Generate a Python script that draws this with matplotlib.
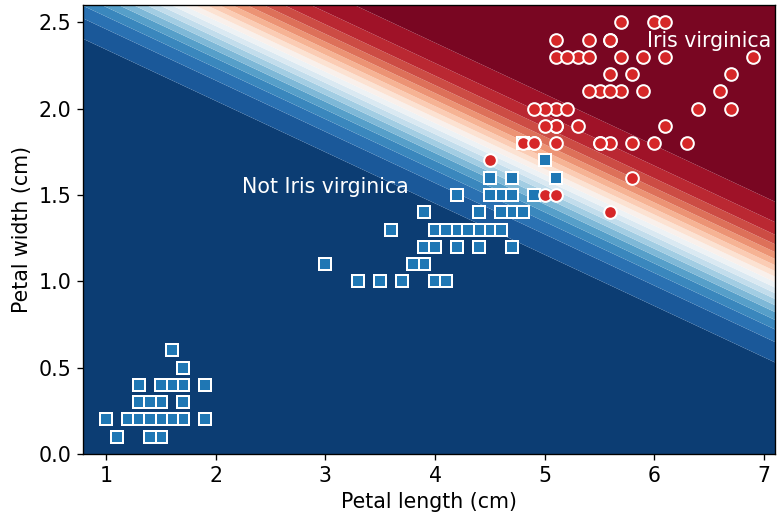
import numpy as np
import matplotlib
matplotlib.use("Agg")
import matplotlib.pyplot as plt

# Iris petal length / width (cm)
petal_length = [
    1.4, 1.4, 1.3, 1.5, 1.4, 1.7, 1.4, 1.5, 1.4, 1.5, 1.5, 1.6, 1.4, 1.1, 1.2, 1.5, 1.3, 1.4, 1.7, 1.5,
    1.7, 1.5, 1.0, 1.7, 1.9, 1.6, 1.6, 1.5, 1.4, 1.6, 1.6, 1.5, 1.5, 1.4, 1.5, 1.2, 1.3, 1.4, 1.3, 1.5,
    1.3, 1.3, 1.3, 1.6, 1.9, 1.4, 1.6, 1.4, 1.5, 1.4,
    4.7, 4.5, 4.9, 4.0, 4.6, 4.5, 4.7, 3.3, 4.6, 3.9, 3.5, 4.2, 4.0, 4.7, 3.6, 4.4, 4.5, 4.1, 4.5, 3.9,
    4.8, 4.0, 4.9, 4.7, 4.3, 4.4, 4.8, 5.0, 4.5, 3.5, 3.8, 3.7, 3.9, 5.1, 4.5, 4.5, 4.7, 4.4, 4.1, 4.0,
    4.4, 4.6, 4.0, 3.3, 4.2, 4.2, 4.2, 4.3, 3.0, 4.1,
    6.0, 5.1, 5.9, 5.6, 5.8, 6.6, 4.5, 6.3, 5.8, 6.1, 5.1, 5.3, 5.5, 5.0, 5.1, 5.3, 5.5, 6.7, 6.9, 5.0,
    5.7, 4.9, 6.7, 4.9, 5.7, 6.0, 4.8, 4.9, 5.6, 5.8, 6.1, 6.4, 5.6, 5.1, 5.6, 6.1, 5.6, 5.5, 5.4, 5.4,
    5.6, 5.1, 5.1, 5.9, 5.7, 5.2, 5.0, 5.2, 5.4, 5.1,
]
petal_width = [
    0.2, 0.2, 0.2, 0.2, 0.2, 0.4, 0.3, 0.2, 0.2, 0.1, 0.2, 0.2, 0.1, 0.1, 0.2, 0.4, 0.4, 0.3, 0.3, 0.3,
    0.2, 0.4, 0.2, 0.5, 0.2, 0.2, 0.4, 0.2, 0.2, 0.2, 0.2, 0.4, 0.1, 0.2, 0.2, 0.2, 0.2, 0.1, 0.2, 0.2,
    0.3, 0.3, 0.2, 0.6, 0.4, 0.3, 0.2, 0.2, 0.2, 0.2,
    1.4, 1.5, 1.5, 1.3, 1.5, 1.3, 1.6, 1.0, 1.3, 1.4, 1.0, 1.5, 1.0, 1.4, 1.3, 1.4, 1.5, 1.0, 1.5, 1.1,
    1.8, 1.3, 1.5, 1.2, 1.3, 1.4, 1.4, 1.7, 1.5, 1.0, 1.1, 1.0, 1.2, 1.6, 1.5, 1.6, 1.5, 1.3, 1.3, 1.3,
    1.2, 1.4, 1.2, 1.0, 1.3, 1.2, 1.3, 1.3, 1.1, 1.3,
    2.5, 1.9, 2.1, 1.8, 2.2, 2.1, 1.7, 1.8, 1.8, 2.5, 2.0, 1.9, 2.1, 2.0, 2.4, 2.3, 1.8, 2.2, 2.3, 1.5,
    2.3, 2.0, 2.0, 1.8, 2.1, 1.8, 1.8, 1.8, 2.1, 1.6, 1.9, 2.0, 2.2, 1.5, 1.4, 2.3, 2.4, 1.8, 2.1, 2.4,
    2.4, 2.3, 1.9, 2.3, 2.5, 2.3, 1.9, 2.0, 2.3, 1.8,
]
is_virginica = [0] * 100 + [1] * 50

# logistic model coefficients (length, width, intercept)
coef_length = 1.88
coef_width = 6.33
intercept = -19.65

prob_levels = np.linspace(0, 1, 21)

x_label = "Petal length (cm)"
y_label = "Petal width (cm)"
x_ticks = [1, 2, 3, 4, 5, 6, 7]
y_ticks = [0.0, 0.5, 1.0, 1.5, 2.0, 2.5]

FS = 12.3
fig = plt.figure(figsize=(777 / 120, 521 / 120), dpi=120)
ax = fig.add_axes([83 / 777, 1 - 454 / 521, 692 / 777, 449 / 521])

xmin, xmax, ymin, ymax = 0.79, 7.1, 0.0, 2.6
g0, g1 = np.meshgrid(np.linspace(xmin, xmax, 600), np.linspace(ymin, ymax, 300))
zz = 1 / (1 + np.exp(-(coef_length * g0 + coef_width * g1 + intercept)))
ax.contourf(g0, g1, zz, levels=prob_levels, cmap=plt.cm.RdBu_r, antialiased=True)

pl = np.array(petal_length)
pw = np.array(petal_width)
yv = np.array(is_virginica)
ax.plot(pl[yv == 0], pw[yv == 0], "s", color="tab:blue", markeredgecolor="white",
        markersize=7.2, markeredgewidth=1.2, linestyle="none")
ax.plot(pl[yv == 1], pw[yv == 1], "o", color="tab:red", markeredgecolor="white",
        markersize=7.6, markeredgewidth=1.2, linestyle="none")

ax.text(3.0, 1.545, "Not Iris virginica", color="white", fontsize=FS, ha="center", va="center")
ax.text(6.5, 2.39, "Iris virginica", color="white", fontsize=FS, ha="center", va="center")

ax.set_xlim(xmin, xmax)
ax.set_ylim(ymin, ymax)
ax.set_xticks(x_ticks)
ax.set_yticks(y_ticks)
ax.tick_params(labelsize=FS)
ax.set_xlabel(x_label, fontsize=FS)
ax.set_ylabel(y_label, fontsize=FS)

fig.savefig("out.png", dpi=120)
